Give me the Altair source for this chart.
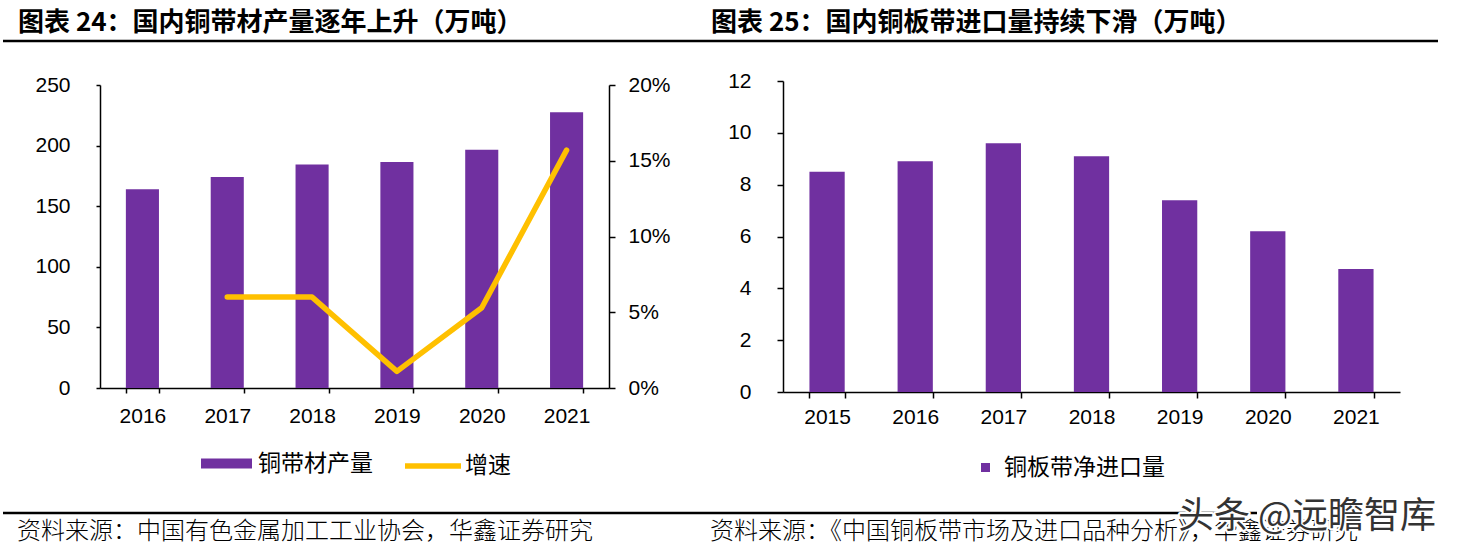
import altair as alt
import pandas as pd

# ---------------- data ----------------
years_left = ["2016", "2017", "2018", "2019", "2020", "2021"]
output = [164, 174, 184.5, 186.5, 196.5, 227.5]          # 万吨
growth = [None, 0.060, 0.060, 0.011, 0.053, 0.157]       # 增速

years_right = ["2015", "2016", "2017", "2018", "2019", "2020", "2021"]
net_import = [8.5, 8.9, 9.6, 9.1, 7.4, 6.2, 4.75]          # 万吨

left_ticks = [0, 50, 100, 150, 200, 250]
growth_ticks = [0, 0.05, 0.10, 0.15, 0.20]
right_ticks = [0, 2, 4, 6, 8, 10, 12]

title_left = "图表 24：国内铜带材产量逐年上升（万吨）"
title_right = "图表 25：国内铜板带进口量持续下滑（万吨）"
source_left = "资料来源：中国有色金属加工工业协会，华鑫证券研究"
source_right = "资料来源：《中国铜板带市场及进口品种分析》，华鑫证券研究"
legend_left_bar = "铜带材产量"
legend_left_line = "增速"
legend_right_bar = "铜板带净进口量"
watermark = "头条 @远瞻智库"

# ---------------- style ----------------
NUM_FONT = "Liberation Sans"
CJK_FONT = "Noto Sans CJK SC"
PURPLE = "#7030A0"
GOLD = "#FFC000"
W, H = 1460, 553

df_left = pd.DataFrame({"year": years_left, "output": output, "series": legend_left_bar})
df_growth = pd.DataFrame({"year": years_left, "growth": growth, "series": legend_left_line}).dropna()
df_right = pd.DataFrame({"year": years_right, "imp": net_import, "series": legend_right_bar})


def xaxis(offset, tick, pad):
    return alt.Axis(title=None, orient="bottom", offset=offset, tickBand="extent", labelAngle=0,
                    labelFont=NUM_FONT, labelFontSize=21, labelColor="#000", labelPadding=pad,
                    domainColor="#000", domainWidth=1.5, tickColor="#000", tickWidth=1.5,
                    tickSize=tick, grid=False)


def yaxis(orient, offset, values, pad, tick, fmt=None):
    kw = dict(title=None, orient=orient, offset=offset, values=values, labelFont=NUM_FONT,
              labelFontSize=21, labelColor="#000", labelPadding=pad, domainColor="#000",
              domainWidth=1.5, tickColor="#000", tickWidth=1.5, tickSize=tick, grid=False)
    if fmt:
        kw["format"] = fmt
    return alt.Axis(**kw)


def legend(x, y, stype, ssize, offset, swidth=0):
    return alt.Legend(title=None, orient="none", legendX=x, legendY=y, symbolType=stype,
                      symbolSize=ssize, symbolStrokeWidth=swidth, labelOffset=offset,
                      labelFont=CJK_FONT, labelFontSize=23, labelColor="#000", labelLimit=400,
                      padding=0, symbolOpacity=1)


left_bars = alt.Chart(df_left).mark_bar().encode(
    x=alt.X("year:N", sort=years_left,
            scale=alt.Scale(domain=years_left, range=[100, 609], paddingInner=0.61, paddingOuter=0.305),
            axis=xaxis(-(H - 388), 5, 12)),
    y=alt.Y("output:Q", scale=alt.Scale(domain=[0, 250], range=[388, 85], nice=False),
            axis=yaxis("left", -100, left_ticks, 26, 4)),
    color=alt.Color("series:N", scale=alt.Scale(domain=[legend_left_bar], range=[PURPLE]),
                    legend=legend(201, 438, "M-1,-0.2H1V0.2H-1Z", 2601, 6)),
)

left_line = alt.Chart(df_growth).mark_line(strokeWidth=5.5, strokeCap="round", strokeJoin="round").encode(
    x=alt.X("year:N", sort=years_left,
            scale=alt.Scale(type="point", domain=years_left, range=[100, 609], padding=0.5),
            axis=None),
    y=alt.Y("growth:Q", scale=alt.Scale(domain=[0, 0.2], range=[388, 85], nice=False),
            axis=yaxis("right", -(W - 609), growth_ticks, 13, 6, ".0%")),
    color=alt.Color("series:N", scale=alt.Scale(domain=[legend_left_line], range=[GOLD]),
                    legend=legend(402, 435, "stroke", 3136, 1, 5.5)),
)

right_bars = alt.Chart(df_right).mark_bar().encode(
    x=alt.X("year:N", sort=years_right,
            scale=alt.Scale(domain=years_right, range=[783, 1400], paddingInner=0.6, paddingOuter=0.3),
            axis=xaxis(-(H - 392), 6, 8)),
    y=alt.Y("imp:Q", scale=alt.Scale(domain=[0, 12], range=[392, 81], nice=False),
            axis=yaxis("left", -783, right_ticks, 26, 6)),
    color=alt.Color("series:N", scale=alt.Scale(domain=[legend_right_bar], range=[PURPLE]),
                    legend=legend(974, 456, "square", 81, 7)),
)


def text_layer(s, x, y, size, weight="normal", color="#000", stroke=None, sw=0):
    kw = dict(align="left", baseline="middle", font=CJK_FONT, fontSize=size, fontWeight=weight, color=color)
    if stroke:
        kw.update(stroke=stroke, strokeWidth=sw, strokeJoin="round")
    return alt.Chart(pd.DataFrame({"t": [s]})).mark_text(**kw).encode(
        text="t:N", x=alt.value(x), y=alt.value(y))


def hrule(x1, x2, y, w):
    return alt.Chart(pd.DataFrame({"a": [0]})).mark_rule(color="#000", strokeWidth=w).encode(
        x=alt.value(x1), x2=alt.value(x2), y=alt.value(y))


layers = [
    hrule(3, 1438, 41, 2.5),
    hrule(3, 1257, 513, 2.5),
    text_layer(title_left, 18, 23, 26, "bold"),
    text_layer(title_right, 711, 23, 26, "bold"),
    text_layer(source_left, 17, 532, 24, 300),
    text_layer(source_right, 710, 532, 24, 300),
    left_bars,
    left_line,
    right_bars,
    text_layer(watermark, 1178, 517, 36, color="#fff", stroke="#fff", sw=4),
    text_layer(watermark, 1178, 517, 36, color="#333"),
]

chart = alt.layer(*layers).resolve_scale(
    x="independent", y="independent", color="independent"
).properties(
    width=W, height=H, padding=0, autosize=alt.AutoSizeParams(type="none"), background="white"
).configure_view(stroke=None)

chart.save("out.html", embed_options={"renderer": "svg", "actions": False})
